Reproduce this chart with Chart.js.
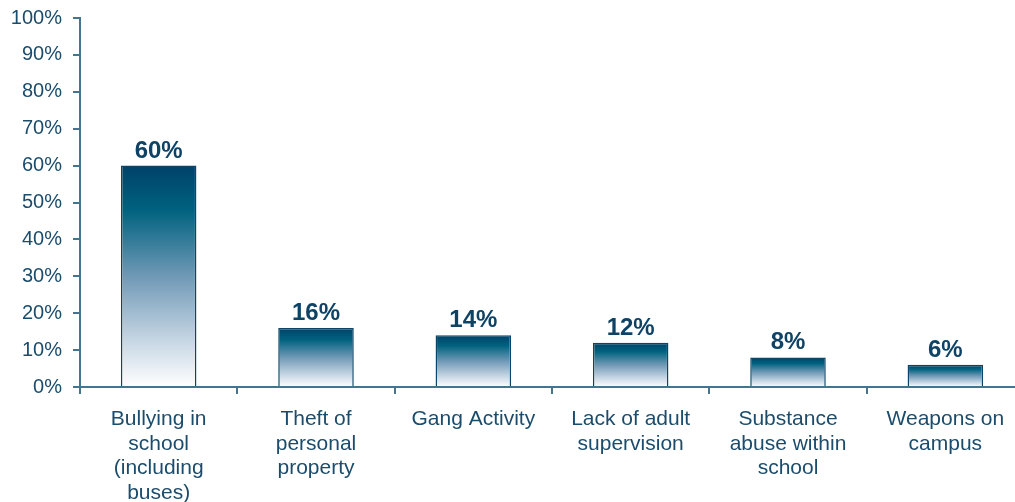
<!DOCTYPE html>
<html>
<head>
<meta charset="utf-8">
<script src="https://cdn.jsdelivr.net/npm/chart.js@4/dist/chart.umd.min.js"></script>
<style>
  html, body { margin: 0; padding: 0; background: #fff; overflow: hidden; }
  #wrap { width: 1015px; height: 502px; overflow: hidden; }
</style>
</head>
<body>
<div id="wrap"><canvas id="chart" width="1024" height="502"></canvas></div>
<script>
// Concerns about school safety, share of respondents
const categories = [
    ['Bullying in', 'school', '(including', 'buses)'],
    ['Theft of', 'personal', 'property'],
    ['Gang Activity'],
    ['Lack of adult', 'supervision'],
    ['Substance', 'abuse within', 'school'],
    ['Weapons on', 'campus']
];
const percentages = [60, 16, 14, 12, 8, 6];
const yTicks = [0, 10, 20, 30, 40, 50, 60, 70, 80, 90, 100];

const AXIS_COLOR = '#45748f';
const TEXT_COLOR = '#1b4c6c';
const LABEL_COLOR = '#0f4366';
const FONT = 'Arial, "Liberation Sans", sans-serif';

// Each bar fades from dark teal at its top to white at the axis
function barGradient(context) {
    const chart = context.chart;
    const yScale = chart.scales.y;
    if (!yScale || context.raw === undefined) return '#00607f';
    const top = yScale.getPixelForValue(context.raw);
    const base = yScale.getPixelForValue(0);
    if (!isFinite(top) || !isFinite(base) || top === base) return '#00607f';
    const g = chart.ctx.createLinearGradient(0, top, 0, base);
    g.addColorStop(0, '#00416a');
    g.addColorStop(0.2, '#00627f');
    g.addColorStop(0.5, '#7099b6');
    g.addColorStop(0.8, '#c9d8e5');
    g.addColorStop(1, '#ffffff');
    return g;
}

// Bold value labels above the bars
const valueLabels = {
    id: 'valueLabels',
    afterDatasetsDraw(chart) {
        const ctx = chart.ctx;
        const meta = chart.getDatasetMeta(0);
        ctx.save();
        ctx.font = 'bold 24px ' + FONT;
        ctx.fillStyle = LABEL_COLOR;
        ctx.textAlign = 'center';
        ctx.textBaseline = 'alphabetic';
        meta.data.forEach((bar, i) => {
            ctx.fillText(percentages[i] + '%', bar.x, bar.y - 8);
        });
        ctx.restore();
    }
};

new Chart(document.getElementById('chart'), {
    type: 'bar',
    data: {
        labels: categories,
        datasets: [{
            data: percentages,
            backgroundColor: barGradient,
            borderColor: '#0b4568',
            borderWidth: 1.5,
            barPercentage: 0.48,
            categoryPercentage: 1
        }]
    },
    options: {
        responsive: false,
        animation: false,
        layout: { padding: { top: 18, right: 0, bottom: 0, left: 0 } },
        plugins: {
            legend: { display: false },
            tooltip: { enabled: false }
        },
        scales: {
            y: {
                min: 0,
                max: 100,
                afterBuildTicks(scale) {
                    scale.ticks = yTicks.map(v => ({ value: v }));
                },
                afterFit(scale) {
                    scale.width = 80;
                    scale.paddingTop = 0;
                    scale.paddingBottom = 0;
                },
                border: { color: AXIS_COLOR, width: 2 },
                grid: {
                    drawOnChartArea: false,
                    color: AXIS_COLOR,
                    lineWidth: 2,
                    tickLength: 7
                },
                ticks: {
                    color: TEXT_COLOR,
                    font: { family: FONT, size: 20 },
                    padding: 11,
                    callback: v => v + '%'
                }
            },
            x: {
                afterFit(scale) {
                    scale.height = 115;
                    scale.paddingLeft = 0;
                    scale.paddingRight = 0;
                },
                border: { color: AXIS_COLOR, width: 2 },
                grid: {
                    offset: true,
                    drawOnChartArea: false,
                    color: AXIS_COLOR,
                    lineWidth: 2,
                    tickLength: 7
                },
                ticks: {
                    color: TEXT_COLOR,
                    font: { family: FONT, size: 21, lineHeight: 1.17 },
                    padding: 13,
                    maxRotation: 0,
                    autoSkip: false
                }
            }
        }
    },
    plugins: [valueLabels]
});
</script>
</body>
</html>
